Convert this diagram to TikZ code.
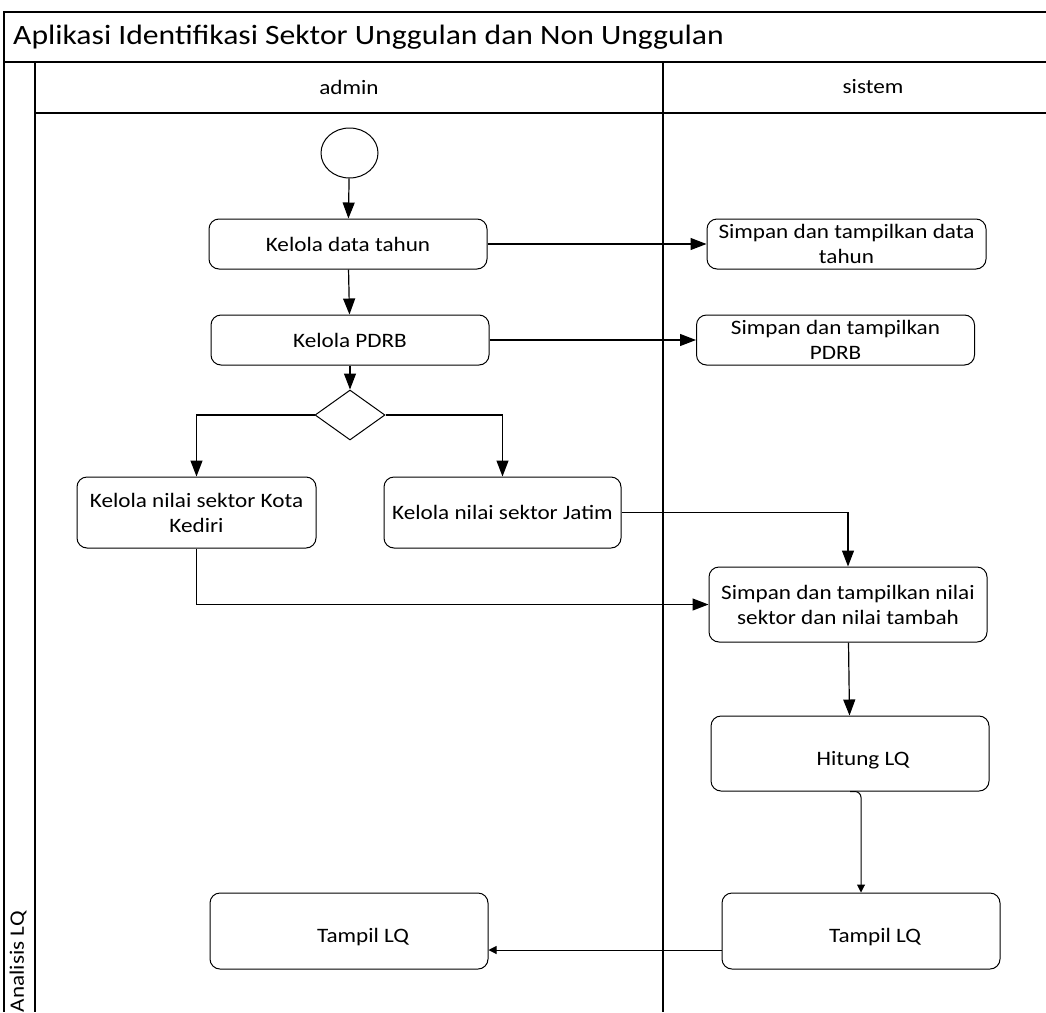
\documentclass[tikz,border=0pt]{standalone}
\usepackage{fontspec}
\setmainfont[FakeStretch=1.13]{Carlito}
\usetikzlibrary{arrows.meta,positioning,shapes.geometric}

\newcommand{\lblfont}{\fontsize{20.5}{25}\selectfont}
\newcommand{\ttlfont}{\fontsize{28}{33}\selectfont}

\tikzset{
  lane/.style={line width=1.8pt},
  act/.style={draw, rounded corners=10pt, line width=1pt, minimum width=278pt,
    minimum height=50pt, inner sep=0pt, align=center, font=\lblfont},
  txt/.style={inner sep=0pt, align=center, font=\lblfont},
  big/.style={line width=1.2pt, -{Triangle[length=16pt,width=12pt]}},
  small/.style={line width=1pt, -{Triangle[length=8pt,width=8pt]}}
}

\begin{document}
\begin{tikzpicture}[x=1pt,y=-1pt]
  \useasboundingbox (0,0) rectangle (1046,1012);

  \draw[lane] (1046,12) -- (4,12) -- (4,1012);      % outer frame
  \draw[lane] (4,62) -- (1046,62);                  % under title
  \draw[lane] (35,62) -- (35,1012);                 % lane label column
  \draw[lane] (35,113) -- (1046,113);               % under lane headers
  \draw[lane] (663,62) -- (663,1012);               % admin | sistem

  \node[anchor=west, inner sep=0pt, font=\ttlfont] (judul) at (13,37) {Aplikasi Identifikasi Sektor Unggulan dan Non Unggulan};
  \node[txt] (admin) at (349,87) {admin};
  \node[txt] (sistem) at (873,87) {sistem};
  \node[txt, rotate=90, anchor=east] (analisis) at (18,911) {Analisis LQ};

  % admin lane
  \node[draw, ellipse, line width=1pt, minimum width=57pt, minimum height=50pt] (mulai) at (349.5,153) {};
  \node[act] (tahun) at (348,244) {Kelola data tahun};
  \node[act] (pdrb) at (350,340) {Kelola PDRB};
  \node[draw, diamond, line width=1pt, inner sep=0pt, minimum width=70pt, minimum height=50pt] (pilih) at (350,415) {};
  \node[act, minimum width=239pt, minimum height=71pt] (kediri) at (196.5,512.5) {Kelola nilai sektor Kota\\Kediri};
  \node[act, minimum width=237pt, minimum height=71pt] (jatim) at (502.5,512.5) {Kelola nilai sektor Jatim};
  \node[act, minimum height=76pt] (tampilA) at (349,931) {};
  \node[txt] (tampilAtxt) at (363,937) {Tampil LQ};

  % sistem lane
  \node[act, minimum width=279pt] (simpantahun) at (846.5,244) {Simpan dan tampilkan data\\tahun};
  \node[act] (simpanpdrb) at (835.5,340) {Simpan dan tampilkan\\PDRB};
  \node[act, minimum height=75pt] (simpannilai) at (848,604.5) {Simpan dan tampilkan nilai\\sektor dan nilai tambah};
  \node[act, minimum height=75pt] (hitung) at (850,753.5) {};
  \node[txt] (hitungtxt) at (863,760) {Hitung LQ};
  \node[act, minimum height=76pt] (tampilB) at (861,931) {};
  \node[txt] (tampilBtxt) at (875,937) {Tampil LQ};

  % flows
  \draw[big] (mulai) -- (tahun);
  \draw[big] (tahun) -- (simpantahun);
  \draw[big] (tahun) -- (pdrb);
  \draw[big] (pdrb) -- (simpanpdrb);
  \draw[big] (pdrb) -- (pilih);
  \draw[big] (pilih.west) -| (kediri.north);
  \draw[big] (pilih.east) -| (jatim.north);
  \draw[big] (jatim.east) -| (simpannilai.north);
  \draw[big] (kediri.south) |- (simpannilai.west);
  \draw[big] (simpannilai) -- (hitung);
  \draw[small, rounded corners=6pt] (hitung.south) -| (tampilB.north);
  \draw[small] ([yshift=-19pt]tampilB.west) -- ([yshift=-19pt]tampilA.east);
\end{tikzpicture}
\end{document}
